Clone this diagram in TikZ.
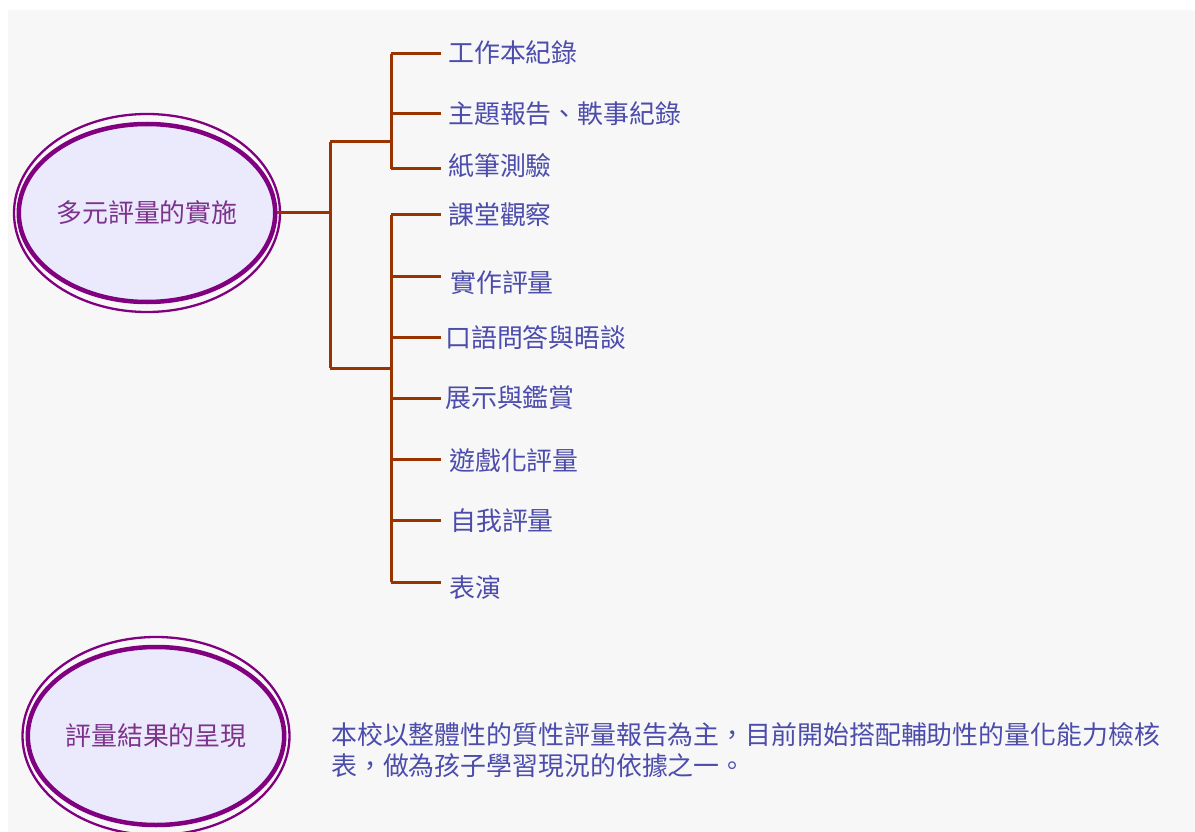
\documentclass[tikz,border=0pt]{standalone}
\usepackage{fontspec}
\setmainfont{Noto Sans CJK TC}
\usetikzlibrary{shapes.geometric,positioning}
\definecolor{ringpurple}{RGB}{128,0,128}
\definecolor{ringfill}{RGB}{234,234,252}
\definecolor{linkbrown}{RGB}{153,51,0}
\definecolor{itemblue}{RGB}{76,76,172}
\definecolor{titlepurple}{RGB}{125,50,140}
\definecolor{paper}{RGB}{247,247,247}
\begin{document}
\begin{tikzpicture}[x=1pt, y=-1pt, line join=round, font=\fontsize{25.9}{31}\selectfont,
  hub/.style={ellipse, draw=ringpurple, line width=4.5pt, fill=ringfill, minimum width=244pt, minimum height=178pt, inner sep=0pt, text=titlepurple},
  ring/.style={draw=ringpurple, line width=2.3pt},
  link/.style={draw=linkbrown, line width=3pt},
  item/.style={anchor=west, inner sep=0pt, text=itemblue}]
\useasboundingbox (0,0) rectangle (1195,832);
\fill[paper] (8,10) rectangle (1195,832);
% ellipses
\node[hub] (plan) at (147,213) {多元評量的實施};
\draw[ring] (plan.center) ellipse [x radius=133pt, y radius=99pt];
\node[hub] (show) at (156,736) {評量結果的呈現};
\draw[ring] (show.center) ellipse [x radius=133.5pt, y radius=99pt];
% tree
\coordinate (fork) at (330,213);
\coordinate (upper) at (330,142);
\coordinate (lower) at (330,368);
\coordinate (upjoint) at (391,142);
\coordinate (lowjoint) at (391,368);
\draw[link] (plan.east) -- (fork);
\draw[link] (upper) -- (lower);
\draw[link] (upper) -- (upjoint);
\draw[link] (lower) -- (lowjoint);
\coordinate (uptop) at (391,54);
\coordinate (upend) at (391,169);
\coordinate (lowtop) at (391,215);
\coordinate (lowend) at (391,582);
\draw[link] (uptop) -- (upend);
\draw[link] (lowtop) -- (lowend);
\foreach \n/\y/\dy/\dx/\txt in {a/54/-1/0/工作本紀錄, b/114/0/0/主題報告、軼事紀錄, c/169/-3/0/紙筆測驗,
    d/215/0/0/課堂觀察, e/276/7/2/實作評量, f/337/1/-3/口語問答與晤談, g/398/0/-3/展示與鑑賞,
    h/459/2/1/遊戲化評量, i/520/1/2/自我評量, j/582/6/1/表演}{
  \coordinate (tip\n) at (441,\y);
  \node[item] (lbl\n) at (448+\dx,\y+\dy) {\txt};
  \draw[link] (uptop |- tip\n) -- (tip\n);
}
% note
\node[item, align=left] (memo) at (331,750) {本校以整體性的質性評量報告為主，目前開始搭配輔助性的量化能力檢核\\表，做為孩子學習現況的依據之一。};
\end{tikzpicture}
\end{document}
